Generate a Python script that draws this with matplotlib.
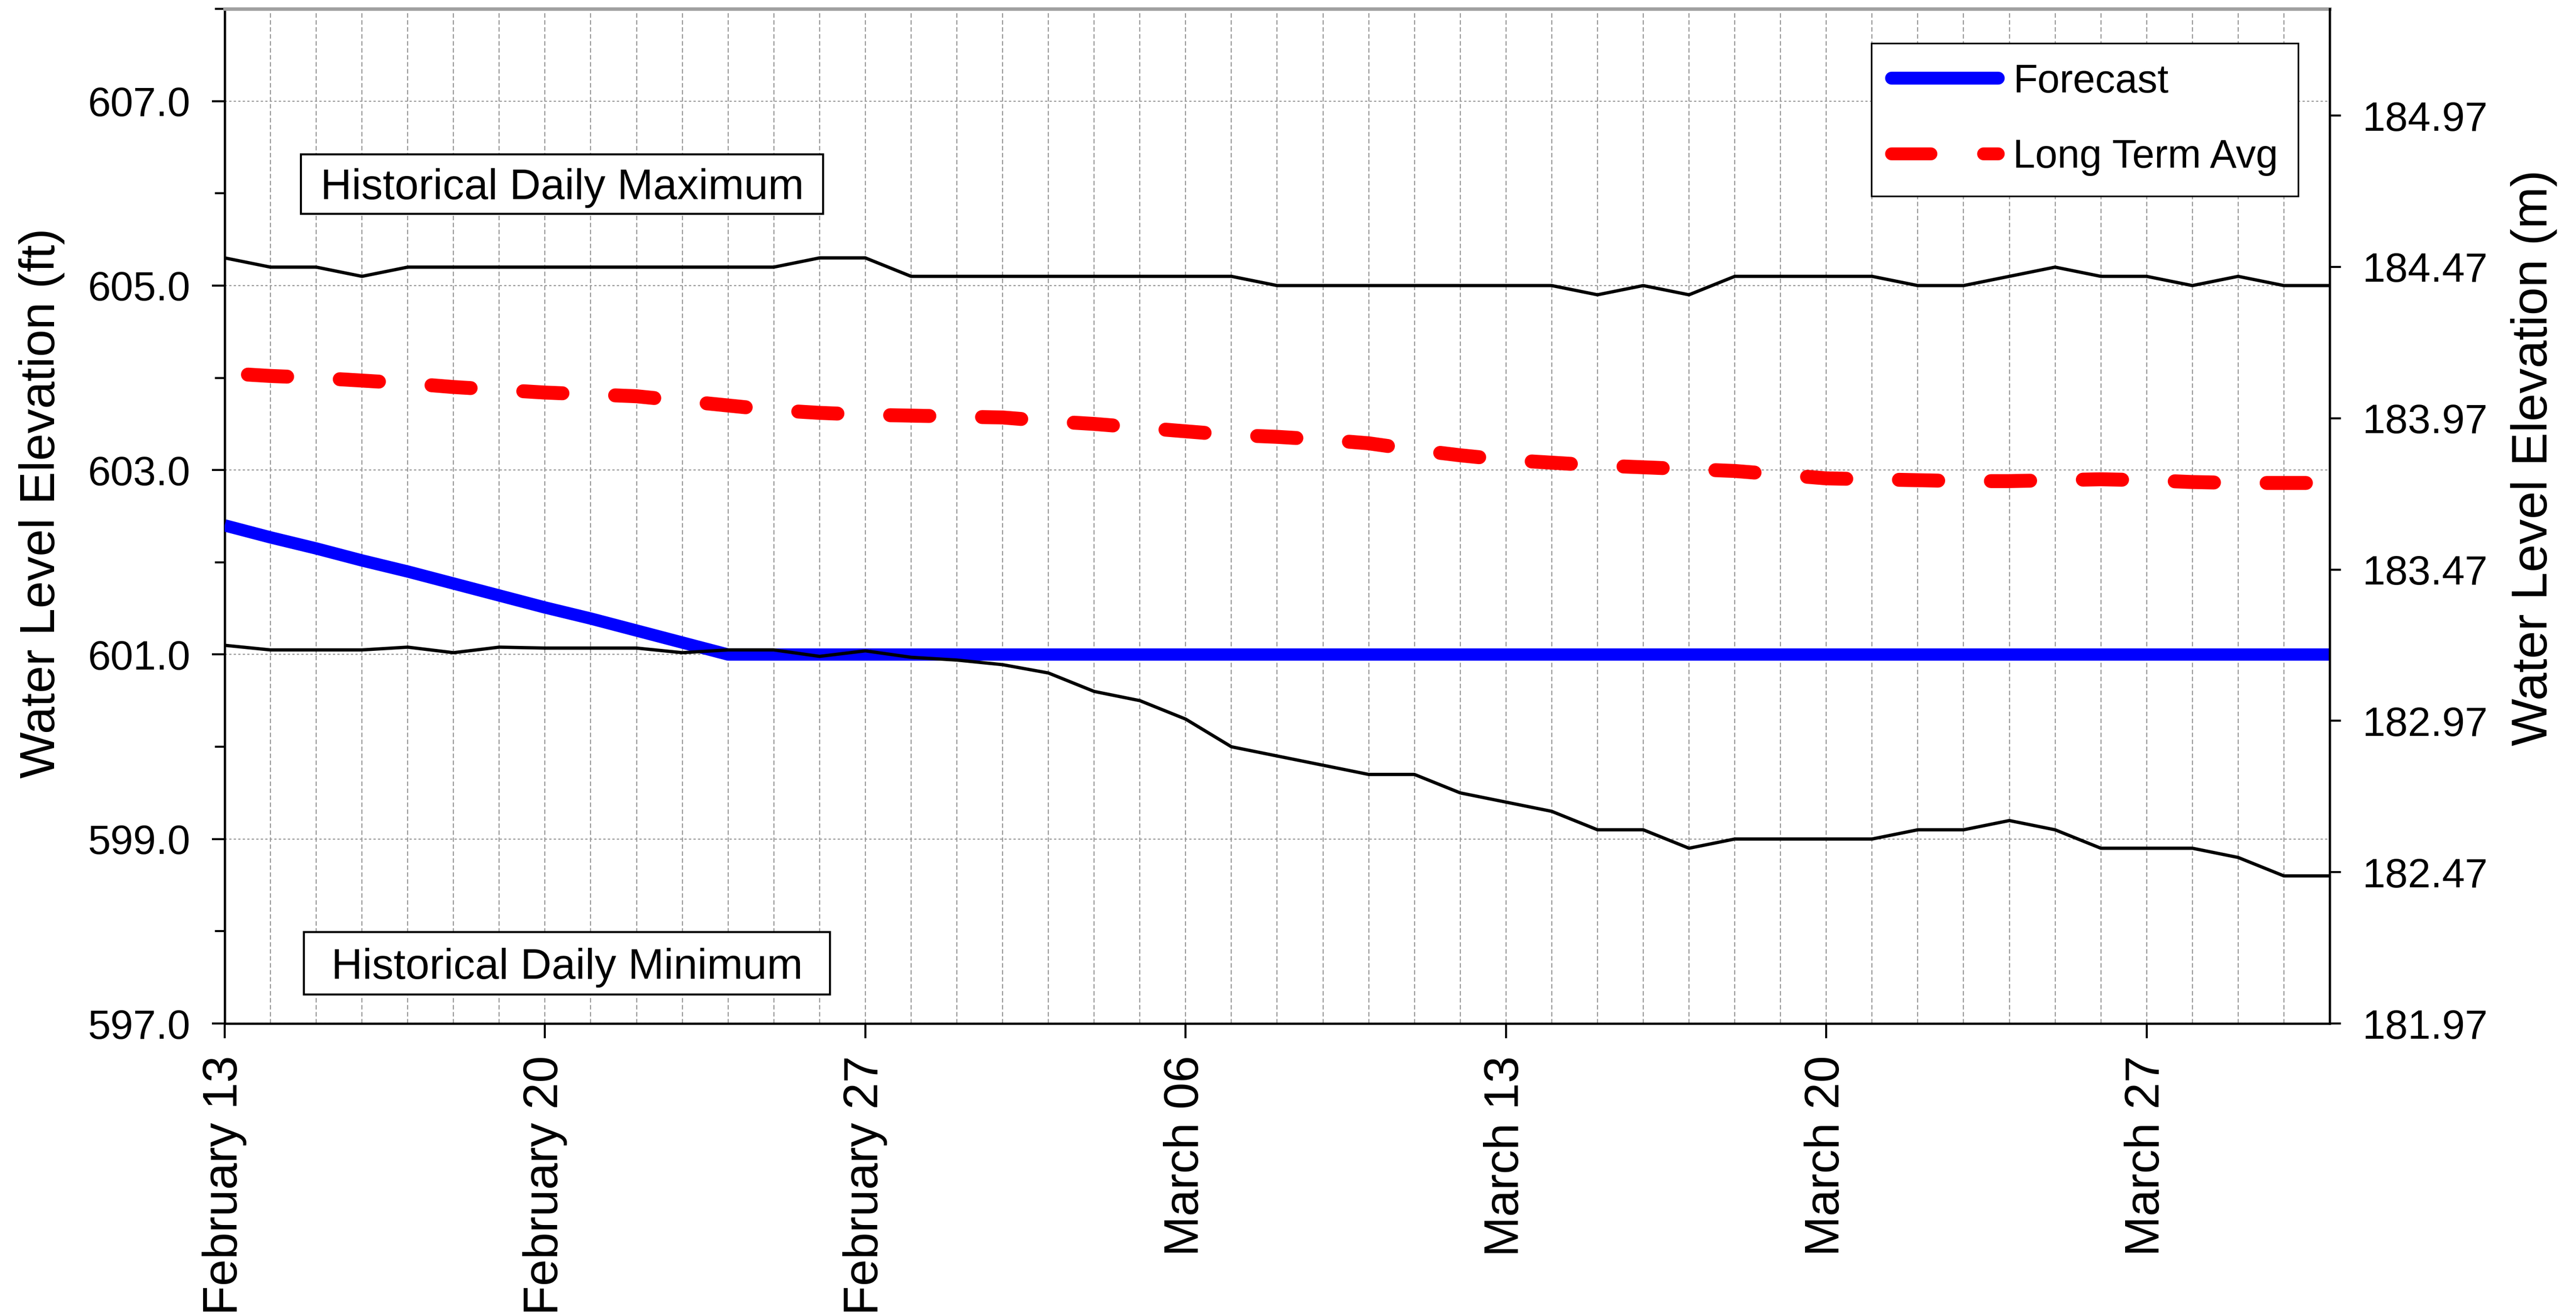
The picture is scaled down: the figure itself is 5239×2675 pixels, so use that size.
import numpy as np
import pandas as pd
import matplotlib
matplotlib.use("Agg")
import matplotlib.pyplot as plt
import matplotlib.dates as mdates
from matplotlib.lines import Line2D
from matplotlib.patches import Rectangle
from matplotlib.ticker import FixedLocator, FuncFormatter

plt.rcParams["font.family"] = ["Liberation Sans", "DejaVu Sans"]

# daily axis, Feb 13 .. Mar 31
dates = pd.date_range("2023-02-13", "2023-03-31", freq="D")

hist_max = [
    605.3, 605.2, 605.2, 605.1, 605.2, 605.2, 605.2, 605.2, 605.2, 605.2,
    605.2, 605.2, 605.2, 605.3, 605.3, 605.1, 605.1, 605.1, 605.1, 605.1,
    605.1, 605.1, 605.1, 605.0, 605.0, 605.0, 605.0, 605.0, 605.0, 605.0,
    604.9, 605.0, 604.9, 605.1, 605.1, 605.1, 605.1, 605.0, 605.0, 605.1,
    605.2, 605.1, 605.1, 605.0, 605.1, 605.0, 605.0,
]
hist_min = [
    601.10, 601.05, 601.05, 601.05, 601.08, 601.02, 601.08, 601.07, 601.07, 601.07,
    601.02, 601.05, 601.05, 600.98, 601.04, 600.97, 600.94, 600.89, 600.80, 600.60,
    600.50, 600.30, 600.00, 599.90, 599.80, 599.70, 599.70, 599.50, 599.40, 599.30,
    599.10, 599.10, 598.90, 599.00, 599.00, 599.00, 599.00, 599.10, 599.10, 599.20,
    599.10, 598.90, 598.90, 598.90, 598.80, 598.60, 598.60,
]
forecast = [
    602.40, 602.27, 602.15, 602.02, 601.90, 601.77, 601.64, 601.51, 601.39, 601.26,
    601.13, 601.00, 601.00, 601.00, 601.00, 601.00, 601.00, 601.00, 601.00, 601.00,
    601.00, 601.00, 601.00, 601.00, 601.00, 601.00, 601.00, 601.00, 601.00, 601.00,
    601.00, 601.00, 601.00, 601.00, 601.00, 601.00, 601.00, 601.00, 601.00, 601.00,
    601.00, 601.00, 601.00, 601.00, 601.00, 601.00, 601.00,
]
long_term_avg = [
    604.05, 604.02, 604.00, 603.97, 603.94, 603.90, 603.87, 603.84, 603.82, 603.80,
    603.75, 603.70, 603.65, 603.62, 603.60, 603.59, 603.58, 603.57, 603.53, 603.50,
    603.46, 603.42, 603.38, 603.36, 603.33, 603.29, 603.22, 603.16, 603.11, 603.08,
    603.05, 603.03, 603.01, 602.99, 602.95, 602.91, 602.90, 602.89, 602.88, 602.88,
    602.89, 602.90, 602.89, 602.87, 602.86, 602.86, 602.86,
]

FT_TO_M = 0.3048
Y_LO, Y_HI = 597.0, 608.0
GRID_COLOR = "#999999"

fig = plt.figure(figsize=(5240 / 300, 2675 / 300), dpi=300)
ax = fig.add_axes([0.08721, 0.22168, 0.81698, 0.77159])

# forecast & long term average (dash lengths given in units of linewidth)
lw_avg = 6.8
ax.plot(dates, forecast, color="#0000ff", linewidth=6.0, solid_capstyle="butt", zorder=3)
ax.plot(dates, long_term_avg, color="#ff0000", linewidth=lw_avg,
        linestyle=(4.93, (2.82, 3.78)), dash_capstyle="round", zorder=3)
ax.plot(dates, hist_max, color="black", linewidth=1.6, zorder=4)
ax.plot(dates, hist_min, color="black", linewidth=1.6, zorder=4)

ax.set_xlim(dates[0], dates[-1])
ax.set_ylim(Y_LO, Y_HI)

ax.xaxis.set_major_locator(mdates.DayLocator(bymonthday=[6, 13, 20, 27]))
ax.xaxis.set_minor_locator(mdates.DayLocator())
ax.xaxis.set_major_formatter(mdates.DateFormatter("%B %d"))
ax.yaxis.set_major_locator(FixedLocator(np.arange(Y_LO, Y_HI + 0.5, 2.0)))
ax.yaxis.set_minor_locator(FixedLocator(np.arange(Y_LO + 1.0, Y_HI + 0.5, 2.0)))
ax.yaxis.set_major_formatter(FuncFormatter(lambda v, _: f"{v:.1f}"))

ax.tick_params(axis="x", which="major", direction="out", length=7.2, width=1.0,
               labelsize=23.5, pad=8.5, labelrotation=90)
ax.tick_params(axis="x", which="minor", length=0)
ax.tick_params(axis="y", which="major", direction="out", length=6.2, width=1.0,
               labelsize=20, pad=10.5)
ax.tick_params(axis="y", which="minor", direction="out", length=4.8, width=1.0)

ax.set_axisbelow(True)
ax.grid(True, axis="x", which="both", color=GRID_COLOR, linewidth=0.55,
        linestyle=(0, (4, 2.2)))
ax.grid(True, axis="y", which="major", color=GRID_COLOR, linewidth=0.55,
        linestyle=(0, (2, 2)))

for side in ["left", "bottom"]:
    ax.spines[side].set_linewidth(1.1)
    ax.spines[side].set_color("black")
ax.spines["top"].set_color("#a0a0a0")
ax.spines["top"].set_linewidth(1.7)
ax.spines["right"].set_visible(False)

ax.set_ylabel("Water Level Elevation (ft)", fontsize=24, va="center")
ax.yaxis.set_label_coords(-0.0869, 0.5126)

# secondary axis in metres
ax2 = ax.twinx()
ax2.set_ylim(Y_LO * FT_TO_M, Y_HI * FT_TO_M)
m_ticks = np.arange(Y_LO * FT_TO_M, Y_HI * FT_TO_M, 0.5)
ax2.yaxis.set_major_locator(FixedLocator(m_ticks))
ax2.yaxis.set_major_formatter(FuncFormatter(lambda v, _: f"{v:.2f}"))
ax2.tick_params(axis="y", which="major", direction="out", length=5.6, width=1.0,
                labelsize=20, pad=10.5)
for side in ["left", "top", "bottom"]:
    ax2.spines[side].set_visible(False)
ax2.spines["right"].set_linewidth(1.1)
ax2.set_ylabel("Water Level Elevation (m)", fontsize=24.5, va="center", rotation=90)
ax2.yaxis.set_label_coords(1.097, 0.5577)

# annotation boxes
for (x0, y0, w, h, tx, ty, txt) in [
    (0.0362, 0.7980, 0.2481, 0.0586, 0.1603, 0.8125, "Historical Daily Maximum"),
    (0.0376, 0.0286, 0.2500, 0.0615, 0.1626, 0.0443, "Historical Daily Minimum"),
]:
    ax.add_patch(Rectangle((x0, y0), w, h, transform=ax.transAxes, facecolor="white",
                           edgecolor="black", linewidth=1.0, zorder=5))
    ax.text(tx, ty, txt, transform=ax.transAxes, ha="center", va="baseline",
            fontsize=21, zorder=6)

handles = [
    Line2D([], [], color="#0000ff", linewidth=6.3, solid_capstyle="round"),
    Line2D([], [], color="#ff0000", linewidth=6.3, linestyle=(0, (3.05, 4.08)),
           dash_capstyle="round"),
]
leg = ax.legend(handles, ["Forecast", "Long Term Avg"], loc="upper left",
                bbox_to_anchor=(0.7823, 0.9661), borderaxespad=0, fontsize=19.5,
                handlelength=2.68, handletextpad=0.37, labelspacing=0.955,
                borderpad=0.50, fancybox=False, framealpha=1, edgecolor="black")
leg.get_frame().set_linewidth(0.8)
leg.set_zorder(7)

fig.savefig("out.png", dpi=300, facecolor="white")
plt.close(fig)
